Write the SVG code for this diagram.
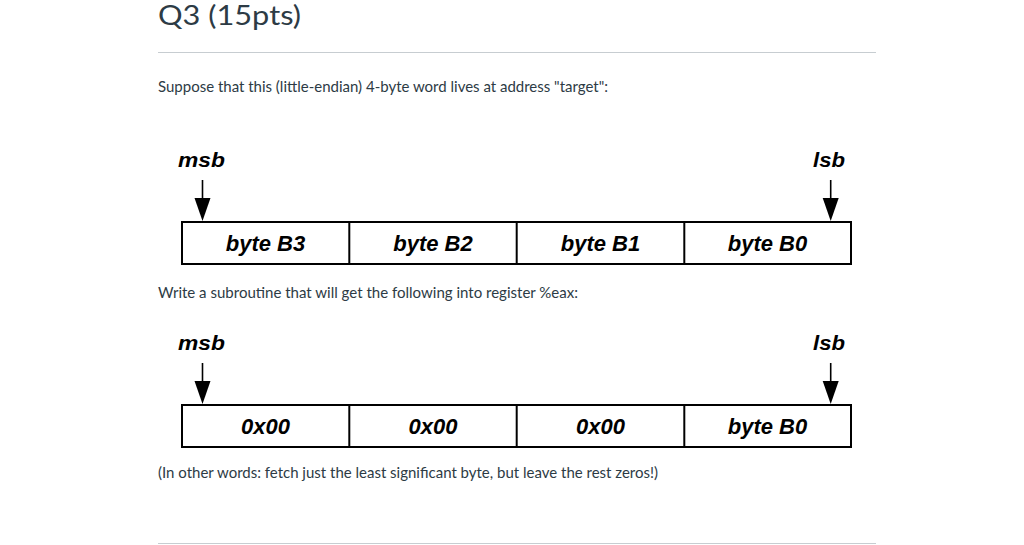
<svg xmlns="http://www.w3.org/2000/svg" width="1024" height="545" viewBox="0 0 1024 545">
<defs>
<style>
.page{font-family:Lato,"Liberation Sans",sans-serif;fill:#2d3b45}
.lbl{font-family:"Liberation Sans",Arial,sans-serif;font-weight:bold;font-style:italic;font-size:21px;fill:#000}
.cell{font-size:22px}
.box{fill:#fff;stroke:#000;stroke-width:2}
.div{stroke:#000;stroke-width:2}
.rule{stroke:#c7cdd1;stroke-width:1}
.shaft{stroke:#000;stroke-width:1.6}
</style>
</defs>
<rect width="1024" height="545" fill="#fff"/>
<text class="page" x="158" y="25" font-size="27" textLength="143" lengthAdjust="spacingAndGlyphs">Q3 (15pts)</text>
<line class="rule" x1="158" y1="52.5" x2="876" y2="52.5"/>
<text class="page" x="158" y="91.5" font-size="15" textLength="450" lengthAdjust="spacingAndGlyphs">Suppose that this (little-endian) 4-byte word lives at address "target":</text>
<text class="page" x="158" y="297.5" font-size="15" textLength="420" lengthAdjust="spacingAndGlyphs">Write a subroutine that will get the following into register %eax:</text>
<text class="page" x="158" y="477.5" font-size="15" textLength="500" lengthAdjust="spacingAndGlyphs">(In other words: fetch just the least significant byte, but leave the rest zeros!)</text>
<line class="rule" x1="158" y1="543.5" x2="876" y2="543.5"/>

<g id="word1">
<text class="lbl" x="178" y="167" textLength="47" lengthAdjust="spacingAndGlyphs">msb</text>
<text class="lbl" x="813" y="167" textLength="32" lengthAdjust="spacingAndGlyphs">lsb</text>
<rect class="box" x="182" y="222" width="669" height="42"/>
<line class="div" x1="349.3" y1="222" x2="349.3" y2="264"/>
<line class="div" x1="516.7" y1="222" x2="516.7" y2="264"/>
<line class="div" x1="684.3" y1="222" x2="684.3" y2="264"/>
<g id="b3"><text class="lbl cell" x="265.5" y="250.5" text-anchor="middle">byte B3</text></g>
<g id="b2"><text class="lbl cell" x="433" y="250.5" text-anchor="middle">byte B2</text></g>
<g id="b1"><text class="lbl cell" x="600.5" y="250.5" text-anchor="middle">byte B1</text></g>
<g id="b0"><text class="lbl cell" x="767.5" y="250.5" text-anchor="middle">byte B0</text></g>
</g>

<g id="word2">
<text class="lbl" x="178" y="350" textLength="47" lengthAdjust="spacingAndGlyphs">msb</text>
<text class="lbl" x="813" y="350" textLength="32" lengthAdjust="spacingAndGlyphs">lsb</text>
<rect class="box" x="182" y="405" width="669" height="42"/>
<line class="div" x1="349.3" y1="405" x2="349.3" y2="447"/>
<line class="div" x1="516.7" y1="405" x2="516.7" y2="447"/>
<line class="div" x1="684.3" y1="405" x2="684.3" y2="447"/>
<g id="z3"><text class="lbl cell" x="265.5" y="434" text-anchor="middle">0x00</text></g>
<g id="z2"><text class="lbl cell" x="433" y="434" text-anchor="middle">0x00</text></g>
<g id="z1"><text class="lbl cell" x="600.5" y="434" text-anchor="middle">0x00</text></g>
<g id="c0"><text class="lbl cell" x="767.5" y="434" text-anchor="middle">byte B0</text></g>
</g>

<g id="connectors">
<line class="shaft" x1="202.5" y1="180" x2="202.5" y2="200"/>
<polygon points="194.5,198 210.5,198 202.5,221"/>
<line class="shaft" x1="830.7" y1="180" x2="830.7" y2="200"/>
<polygon points="822.7,198 838.7,198 830.7,221"/>
<line class="shaft" x1="202.5" y1="363" x2="202.5" y2="383"/>
<polygon points="194.5,381 210.5,381 202.5,404"/>
<line class="shaft" x1="830.7" y1="363" x2="830.7" y2="383"/>
<polygon points="822.7,381 838.7,381 830.7,404"/>
</g>
</svg>
